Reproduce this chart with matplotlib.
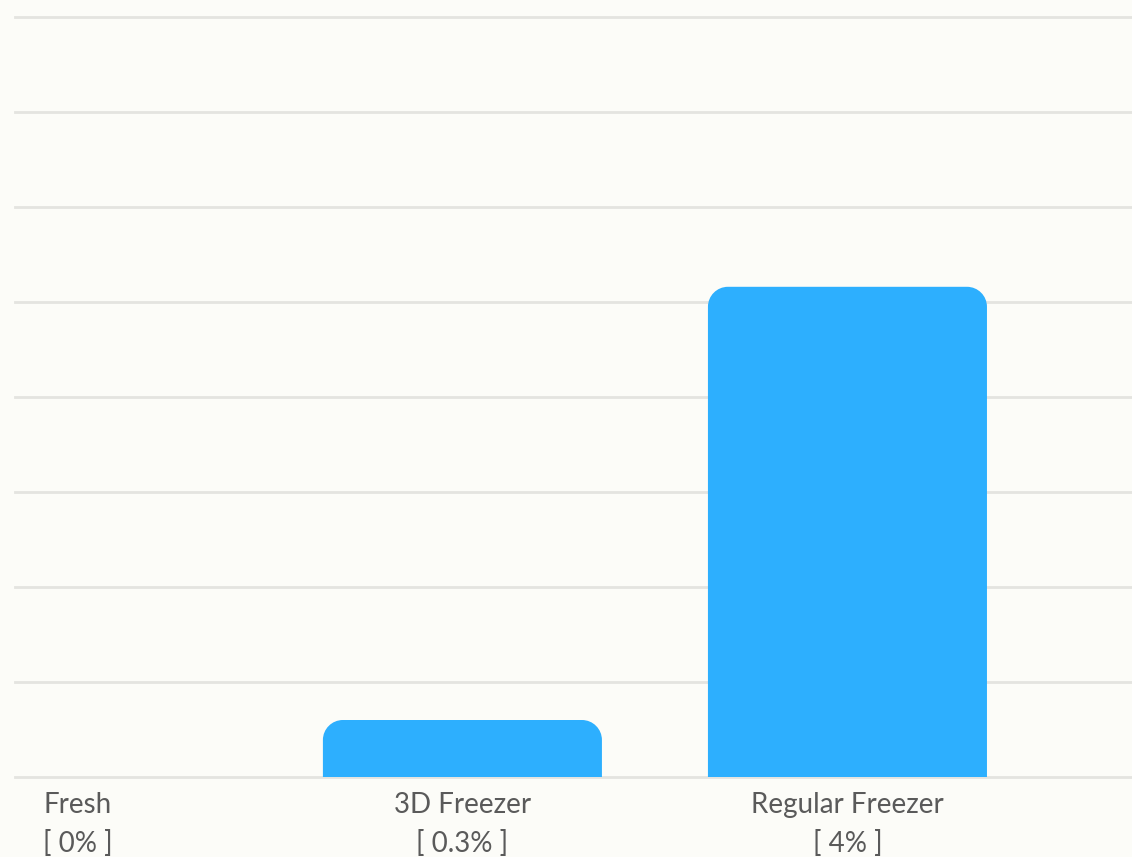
import numpy as np
import matplotlib
matplotlib.use("Agg")
import matplotlib.pyplot as plt
from matplotlib.path import Path
from matplotlib.patches import PathPatch

categories = ["Fresh", "3D Freezer", "Regular Freezer"]
pct_labels = ["[ 0% ]", "[ 0.3% ]", "[ 4% ]"]
values = [0.0, 0.6, 5.16]   # bar heights in grid units
grid_ticks = list(range(0, 9))

bg = "#fcfcf8"
bar_color = "#2daffe"
grid_color = "#e4e4e0"
text_color = "#5a5a5a"

plt.rcParams["font.family"] = ["Lato", "DejaVu Sans"]

fig = plt.figure(figsize=(11.32, 8.57), dpi=100, facecolor=bg)
ax = fig.add_axes([15 / 1132, 1 - 777 / 857, 1 - 15 / 1132, 777 / 857])
ax.set_facecolor(bg)

x = np.arange(len(categories))
bars = ax.bar(x, values, width=279 / 385, color=bar_color, zorder=3)

ax.set_xlim(-0.162, 2.739)
ax.set_ylim(0, 777 / 95)
ax.set_yticks(grid_ticks)
ax.yaxis.grid(True, color=grid_color, linewidth=2, zorder=0)
for gl in ax.yaxis.get_gridlines():
    gl.set_clip_on(False)
ax.tick_params(axis="y", left=False, labelleft=False)
ax.tick_params(axis="x", bottom=False, labelbottom=False)
for s in ax.spines.values():
    s.set_visible(False)

# category labels below the baseline
for xi, name, pct in zip(x, categories, pct_labels):
    ax.annotate(name, (xi, 0), xycoords="data", xytext=(0, -28),
                textcoords="offset pixels", ha="center", va="center",
                fontsize=20, color=text_color)
    ax.annotate(pct, (xi, 0), xycoords="data", xytext=(0, -66),
                textcoords="offset pixels", ha="center", va="center",
                fontsize=20, color=text_color)

fig.canvas.draw()

# swap the plain rectangles for ones with rounded top corners (pixel radius)
r = 20
for b in bars:
    if b.get_height() <= 0:
        b.set_visible(False)
        continue
    (x0, y0), (x1, y1) = ax.transData.transform(
        [(b.get_x(), 0), (b.get_x() + b.get_width(), b.get_height())])
    rr = min(r, (y1 - y0), (x1 - x0) / 2)
    k = 0.5523
    verts = [(x0, y0), (x0, y1 - rr),
             (x0, y1 - rr + k * rr), (x0 + rr - k * rr, y1), (x0 + rr, y1),
             (x1 - rr, y1),
             (x1 - rr + k * rr, y1), (x1, y1 - rr + k * rr), (x1, y1 - rr),
             (x1, y0), (x0, y0)]
    codes = [Path.MOVETO, Path.LINETO,
             Path.CURVE4, Path.CURVE4, Path.CURVE4,
             Path.LINETO,
             Path.CURVE4, Path.CURVE4, Path.CURVE4,
             Path.LINETO, Path.CLOSEPOLY]
    patch = PathPatch(Path(verts, codes), facecolor=bar_color, edgecolor="none",
                      transform=None, zorder=3)
    fig.add_artist(patch)
    b.set_visible(False)

fig.savefig("out.png", dpi=100, facecolor=bg)
